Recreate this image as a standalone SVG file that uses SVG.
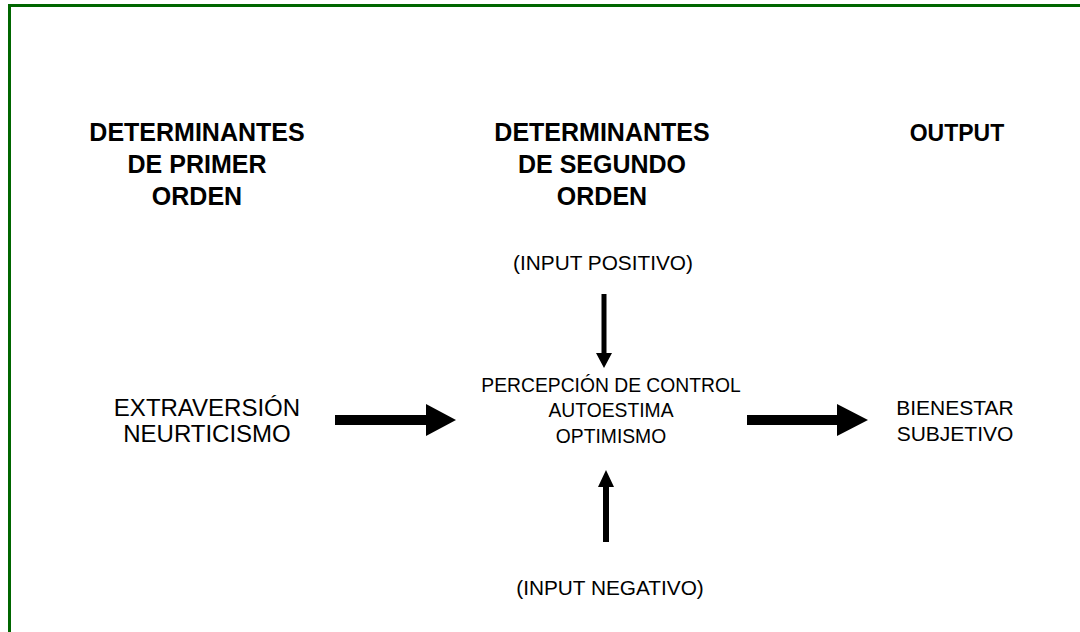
<svg xmlns="http://www.w3.org/2000/svg" width="1080" height="632" viewBox="0 0 1080 632">
<style>
.t{font-family:"Liberation Sans",Arial,sans-serif;fill:#000;text-anchor:middle}
.h{font-size:25px;font-weight:bold}
.o{font-size:23px;font-weight:bold}
.s{font-size:24px}
.b{font-size:21px}
.c{font-size:19.3px}
.i{font-size:20.8px}
.arr{fill:#000}
</style>
<rect x="0" y="0" width="1080" height="632" fill="#fff"/>
<path d="M9.5,640 V5.5 H1085" fill="none" stroke="#006600" stroke-width="3"/>
<g id="col1">
<text class="t h" x="197" y="141">DETERMINANTES</text>
<text class="t h" x="197" y="173">DE PRIMER</text>
<text class="t h" x="197" y="205">ORDEN</text>
</g>
<g id="col2">
<text class="t h" x="602" y="141">DETERMINANTES</text>
<text class="t h" x="602" y="173">DE SEGUNDO</text>
<text class="t h" x="602" y="205">ORDEN</text>
</g>
<g id="col3">
<text class="t o" x="957" y="141">OUTPUT</text>
</g>
<g id="input-pos">
<text class="t i" x="603" y="270">(INPUT POSITIVO)</text>
</g>
<g id="input-neg">
<text class="t i" x="610" y="595">(INPUT NEGATIVO)</text>
</g>
<g id="first">
<text class="t s" x="207" y="416">EXTRAVERSIÓN</text>
<text class="t s" x="207" y="442">NEURTICISMO</text>
</g>
<g id="second">
<text class="t c" x="611" y="392">PERCEPCIÓN DE CONTROL</text>
<text class="t c" x="611" y="417">AUTOESTIMA</text>
<text class="t c" x="611" y="443">OPTIMISMO</text>
</g>
<g id="output">
<text class="t b" x="955" y="415">BIENESTAR</text>
<text class="t b" x="955" y="441">SUBJETIVO</text>
</g>
<g id="connectors">
<polygon class="arr" points="335,415 426,415 426,404 456,420 426,436 426,425 335,425"/>
<polygon class="arr" points="747,415 837,415 837,404 868,420 837,436 837,425 747,425"/>
<polygon class="arr" points="601.5,294 606.5,294 606.5,353 612,353 604,368 596,353 601.5,353"/>
<polygon class="arr" points="603,542 609,542 609,487 614,487 606,470 598,487 603,487"/>
</g>
</svg>
